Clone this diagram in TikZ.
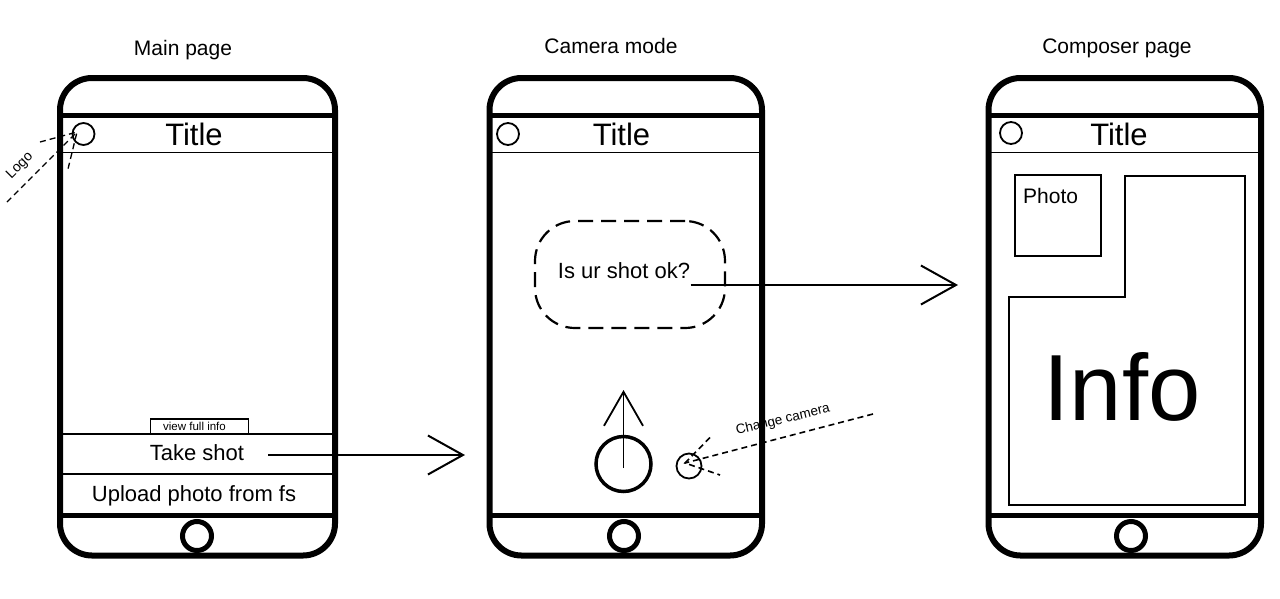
\documentclass[tikz,border=0pt]{standalone}
\usepackage{fontspec}
\setmainfont{Liberation Sans}
\usetikzlibrary{arrows.meta}

\begin{document}
\begin{tikzpicture}[x=1pt,y=-1pt,
  frame/.style={line width=6pt, rounded corners=32pt},
  band/.style={line width=5pt},
  thinline/.style={line width=1.8pt},
  homebtn/.style={circle, draw, line width=5pt, minimum size=29pt, inner sep=0pt},
  logo/.style={circle, draw, line width=1.8pt, minimum size=22pt, inner sep=0pt},
  heading/.style={font=\fontsize{21}{25}\selectfont, anchor=base, inner sep=0pt},
  titletext/.style={font=\fontsize{31}{37}\selectfont, anchor=base, inner sep=0pt},
  label/.style={font=\fontsize{22}{26}\selectfont, anchor=base, inner sep=0pt},
  small/.style={font=\fontsize{11.5}{13}\selectfont, anchor=base, inner sep=0pt},
  flow/.style={line width=2pt, -{Straight Barb[length=35pt,width=39pt,line width=2pt]}},
  hint/.style={line width=1.6pt, dash pattern=on 6pt off 4pt},
]
\useasboundingbox (0,0) rectangle (1280,598);

% ---------- phone frames ----------
\foreach \l/\r in {60/335, 489.5/762, 988.5/1261}{
  \draw[frame] (\l,78) rectangle (\r,555.5);
  \draw[band] (\l,115.5) -- (\r,115.5);
  \draw[thinline] (\l,152.5) -- (\r,152.5);
  \draw[band] (\l,515) -- (\r,515);
}

% ---------- headings ----------
\node[heading] (hmain) at (183,55) {Main page};
\node[heading] (hcam)  at (611,53) {Camera mode};
\node[heading] (hcomp) at (1117,53) {Composer page};

% ---------- title bars ----------
\node[logo] (logoA) at (83.5,134) {};
\node[logo] (logoB) at (508,134) {};
\node[logo] (logoC) at (1011,133) {};
\node[titletext] (titleA) at (194,145) {Title};
\node[titletext] (titleB) at (621.5,145) {Title};
\node[titletext] (titleC) at (1119,145) {Title};

% ---------- home buttons ----------
\node[homebtn] (homeA) at (197,536) {};
\node[homebtn] (homeB) at (624,536) {};
\node[homebtn] (homeC) at (1131,536) {};

% ---------- main page ----------
\draw[thinline] (60,434) -- (335,434);
\draw[thinline] (60,474) -- (335,474);
\draw[line width=1.4pt] (150.7,434) -- (150.7,419) -- (248.3,419) -- (248.3,434);
\node[small] (fullinfo) at (194.5,430) {view full info};
\node[label] (takeshot) at (197,460.5) {Take shot};
\node[label] (upload) at (194,501) {Upload photo from fs};

% logo hint
\coordinate (logotail) at (7,202);
\coordinate (logotip) at (77,132);
\coordinate (logoarmA) at (40,142);
\coordinate (logoarmB) at (68,169);
\draw[hint, line width=1.3pt] (logotail) -- (logotip);
\draw[hint, line width=1.3pt] (logoarmA) -- (logotip) -- (logoarmB);
\node[font=\fontsize{14}{16}\selectfont, rotate=45, inner sep=0pt] (logotext) at (20,166) {Logo};

% take shot -> camera mode
\coordinate (shotstart) at (268,455);
\coordinate (shottip) at (465,455);
\draw[flow] (shotstart) -- (shottip);

% ---------- camera mode ----------
\node[draw, line width=2.2pt, dash pattern=on 15pt off 8pt, rounded corners=40pt,
      minimum width=190pt, minimum height=107pt] (bubble) at (630,274.5) {};
\node[label] (shotok) at (624,278) {Is ur shot ok?};

\node[circle, draw, line width=3.5pt, minimum size=55pt, inner sep=0pt] (shutter) at (623.5,464) {};
\coordinate (uptail) at (623.5,468);
\coordinate (uptip) at (623.5,390);
\draw[line width=1.8pt, -{Straight Barb[length=34pt,width=39pt,line width=1.8pt]}] (uptail) -- (uptip);

\node[circle, draw, line width=1.8pt, minimum size=25pt, inner sep=0pt] (switchcam) at (689,466) {};
\coordinate (camtail) at (873,414);
\coordinate (camtip) at (685,463);
\coordinate (camarmA) at (710,437.5);
\coordinate (camarmB) at (720,475);
\draw[hint] (camtail) -- (camtip);
\draw[hint] (camarmA) -- (camtip) -- (camarmB);
\node[font=\fontsize{13.5}{16}\selectfont, rotate=13.6] (camtext) at (783,420) {Change camera};

% shot ok -> composer page
\coordinate (okstart) at (690.5,285);
\coordinate (oktip) at (958,285);
\draw[flow] (okstart) -- (oktip);

% ---------- composer page ----------
\draw[thinline] (1015,175) rectangle (1101,256);
\node[label, font=\fontsize{21}{25}\selectfont, anchor=base west] (photo) at (1023,203.5) {Photo};
\draw[thinline] (1009,297) -- (1125,297) -- (1125,176) -- (1245,176) -- (1245,505) -- (1009,505) -- cycle;
\node[font=\fontsize{94}{100}\selectfont, anchor=base, inner sep=0pt] (info) at (1122,420) {Info};

\end{tikzpicture}
\end{document}
